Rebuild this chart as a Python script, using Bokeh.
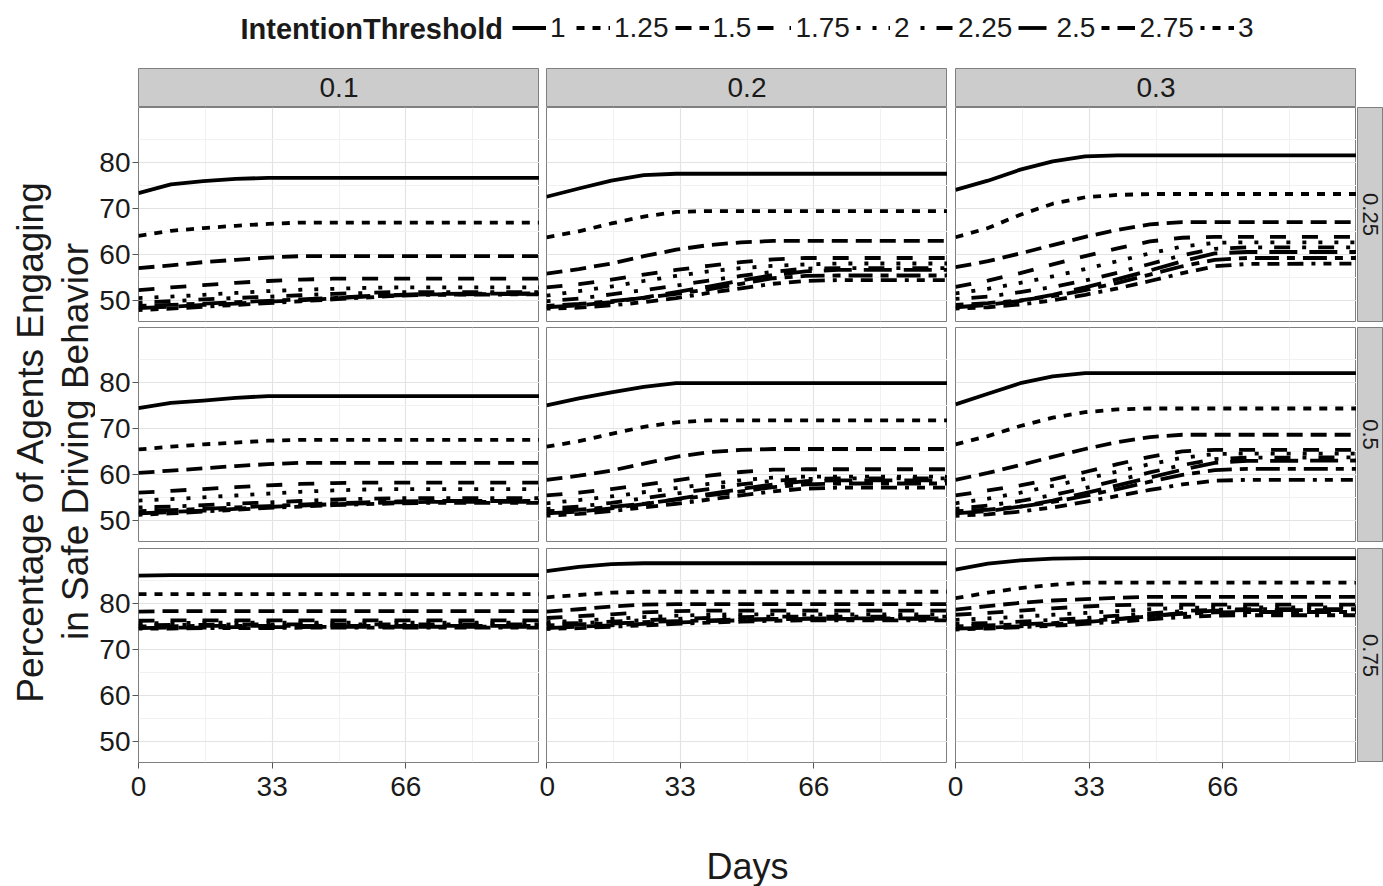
import math
from bokeh.plotting import figure
from bokeh.layouts import column, row
from bokeh.models import Range1d, FixedTicker, Label, Legend, LegendItem
from bokeh.embed import file_html
from bokeh.resources import INLINE

# ---------------- data ----------------
DAYS = [0, 8, 16, 24, 32, 40, 48, 56, 64, 72, 99]
THRESHOLDS = ["1", "1.25", "1.5", "1.75", "2", "2.25", "2.5", "2.75", "3"]
COL_LABELS = ["0.1", "0.2", "0.3"]
ROW_LABELS = ["0.25", "0.5", "0.75"]
X_TICKS = [0, 33, 66, 99]
Y_TICKS = [50, 60, 70, 80]
Y_TITLE = ["Percentage of Agents Engaging", "in Safe Driving Behavior"]
X_TITLE = "Days"
LEGEND_TITLE = "IntentionThreshold"

# row 0.25
v025_01 = [
    [73.3, 75.2, 75.9, 76.4, 76.6, 76.6, 76.6, 76.6, 76.6, 76.6, 76.6],
    [64.0, 65.1, 65.7, 66.2, 66.6, 66.9, 66.9, 66.9, 66.9, 66.9, 66.9],
    [57.0, 57.6, 58.3, 58.8, 59.3, 59.6, 59.6, 59.6, 59.6, 59.6, 59.6],
    [52.2, 52.8, 53.3, 53.8, 54.2, 54.5, 54.7, 54.7, 54.7, 54.7, 54.7],
    [50.5, 50.8, 51.2, 51.6, 52.0, 52.3, 52.5, 52.7, 52.8, 52.8, 52.8],
    [49.5, 49.8, 50.2, 50.5, 50.8, 51.1, 51.4, 51.6, 51.8, 51.8, 51.8],
    [48.3, 48.6, 49.0, 49.3, 49.7, 50.0, 50.4, 50.8, 51.1, 51.3, 51.4],
    [48.8, 49.0, 49.3, 49.6, 49.9, 50.2, 50.5, 50.9, 51.2, 51.4, 51.5],
    [47.9, 48.2, 48.6, 49.0, 49.4, 49.8, 50.2, 50.6, 51.0, 51.2, 51.3],
]
v025_02 = [
    [72.5, 74.3, 76.0, 77.2, 77.5, 77.5, 77.5, 77.5, 77.5, 77.5, 77.5],
    [63.7, 65.0, 66.7, 68.2, 69.2, 69.4, 69.4, 69.4, 69.4, 69.4, 69.4],
    [55.8, 56.8, 58.0, 59.6, 61.0, 62.0, 62.6, 62.9, 62.9, 62.9, 62.9],
    [52.8, 53.5, 54.5, 55.6, 56.6, 57.5, 58.3, 58.9, 59.2, 59.2, 59.2],
    [51.0, 52.0, 53.0, 54.2, 55.3, 56.3, 57.0, 57.5, 57.8, 58.0, 58.0],
    [49.8, 50.4, 51.3, 52.2, 53.2, 54.3, 55.3, 56.2, 56.9, 57.0, 57.0],
    [48.5, 48.9, 49.6, 50.6, 51.8, 53.0, 54.3, 55.5, 56.3, 56.6, 56.6],
    [48.8, 49.2, 49.8, 50.5, 51.4, 52.4, 53.6, 54.8, 55.3, 55.4, 55.4],
    [48.2, 48.4, 48.9, 49.6, 50.5, 51.6, 52.6, 53.6, 54.2, 54.4, 54.4],
]
v025_03 = [
    [74.0, 76.0, 78.4, 80.2, 81.3, 81.5, 81.5, 81.5, 81.5, 81.5, 81.5],
    [63.7, 65.7, 68.6, 71.0, 72.4, 72.9, 73.1, 73.1, 73.1, 73.1, 73.1],
    [57.2, 58.5, 60.2, 62.0, 63.8, 65.3, 66.5, 67.0, 67.0, 67.0, 67.0],
    [52.9, 54.3, 55.9, 57.8, 59.6, 61.3, 62.8, 63.6, 63.8, 63.8, 63.8],
    [51.5, 52.5, 53.8, 55.2, 56.8, 58.5, 60.2, 61.7, 62.5, 62.6, 62.6],
    [50.3, 50.8, 51.8, 52.9, 54.3, 56.0, 57.9, 59.8, 61.2, 61.5, 61.5],
    [48.5, 49.0, 49.9, 51.2, 52.8, 54.6, 56.5, 58.5, 60.2, 60.5, 60.5],
    [49.0, 49.4, 50.0, 50.9, 52.2, 53.8, 55.6, 57.4, 58.8, 59.2, 59.2],
    [48.2, 48.5, 49.1, 50.0, 51.2, 52.6, 54.2, 55.9, 57.4, 57.9, 58.0],
]
# row 0.5
v050_01 = [
    [74.4, 75.5, 76.0, 76.6, 77.0, 77.0, 77.0, 77.0, 77.0, 77.0, 77.0],
    [65.4, 66.0, 66.5, 66.9, 67.3, 67.5, 67.5, 67.5, 67.5, 67.5, 67.5],
    [60.3, 60.8, 61.3, 61.8, 62.2, 62.5, 62.5, 62.5, 62.5, 62.5, 62.5],
    [56.0, 56.4, 56.8, 57.2, 57.6, 57.9, 58.1, 58.2, 58.2, 58.2, 58.2],
    [54.3, 54.6, 55.0, 55.4, 55.8, 56.2, 56.5, 56.7, 56.8, 56.8, 56.8],
    [52.8, 53.0, 53.3, 53.6, 53.9, 54.2, 54.5, 54.7, 54.8, 54.8, 54.8],
    [51.5, 51.8, 52.1, 52.5, 52.9, 53.2, 53.5, 53.7, 53.9, 54.0, 54.0],
    [52.0, 52.2, 52.5, 52.8, 53.1, 53.4, 53.7, 53.9, 54.1, 54.2, 54.2],
    [51.2, 51.5, 51.9, 52.3, 52.7, 53.0, 53.3, 53.5, 53.7, 53.8, 53.8],
]
v050_02 = [
    [75.0, 76.5, 77.8, 79.0, 79.8, 79.8, 79.8, 79.8, 79.8, 79.8, 79.8],
    [66.0, 67.2, 68.8, 70.3, 71.3, 71.7, 71.7, 71.7, 71.7, 71.7, 71.7],
    [58.8, 59.7, 60.8, 62.3, 63.8, 64.8, 65.3, 65.5, 65.5, 65.5, 65.5],
    [55.4, 56.0, 56.8, 57.7, 58.7, 59.7, 60.5, 61.0, 61.1, 61.1, 61.1],
    [53.7, 54.4, 55.2, 56.1, 57.0, 57.9, 58.7, 59.3, 59.5, 59.5, 59.5],
    [52.5, 53.0, 53.8, 54.8, 55.8, 56.8, 57.8, 58.6, 59.0, 59.1, 59.1],
    [51.5, 51.9, 52.6, 53.5, 54.6, 55.7, 56.8, 57.8, 58.5, 58.7, 58.7],
    [52.0, 52.3, 52.9, 53.6, 54.5, 55.4, 56.3, 57.2, 57.8, 58.0, 58.0],
    [51.0, 51.4, 52.0, 52.8, 53.6, 54.5, 55.4, 56.3, 56.9, 57.1, 57.1],
]
v050_03 = [
    [75.2, 77.5, 79.8, 81.3, 82.0, 82.0, 82.0, 82.0, 82.0, 82.0, 82.0],
    [66.5, 68.3, 70.5, 72.3, 73.5, 74.1, 74.3, 74.3, 74.3, 74.3, 74.3],
    [58.8, 60.3, 62.0, 63.8, 65.5, 67.0, 68.1, 68.6, 68.6, 68.6, 68.6],
    [55.4, 56.5, 57.6, 58.9, 60.5, 62.2, 63.8, 65.0, 65.3, 65.3, 65.3],
    [53.7, 54.7, 56.0, 57.5, 59.0, 60.6, 62.2, 63.6, 64.4, 64.5, 64.5],
    [52.5, 53.2, 54.2, 55.5, 57.0, 58.7, 60.4, 62.0, 63.3, 63.6, 63.7],
    [51.5, 52.0, 53.0, 54.3, 55.9, 57.6, 59.3, 61.0, 62.5, 62.9, 63.0],
    [52.0, 52.3, 53.0, 54.0, 55.3, 56.8, 58.4, 59.9, 60.9, 61.2, 61.2],
    [51.0, 51.3, 51.9, 52.8, 54.0, 55.3, 56.6, 57.8, 58.6, 58.8, 58.8],
]
# row 0.75
v075_01 = [
    [86.0, 86.1, 86.1, 86.1, 86.1, 86.1, 86.1, 86.1, 86.1, 86.1, 86.1],
    [82.0, 82.0, 82.0, 82.0, 82.0, 82.0, 82.0, 82.0, 82.0, 82.0, 82.0],
    [78.2, 78.3, 78.3, 78.3, 78.3, 78.3, 78.3, 78.3, 78.3, 78.3, 78.3],
    [76.2, 76.3, 76.3, 76.3, 76.3, 76.3, 76.3, 76.3, 76.3, 76.3, 76.3],
    [75.7, 75.7, 75.8, 75.8, 75.8, 75.8, 75.8, 75.8, 75.8, 75.8, 75.8],
    [75.2, 75.3, 75.3, 75.4, 75.4, 75.4, 75.4, 75.4, 75.4, 75.4, 75.4],
    [74.6, 74.7, 74.7, 74.8, 74.8, 74.8, 74.9, 74.9, 74.9, 74.9, 74.9],
    [75.0, 75.0, 75.1, 75.1, 75.1, 75.1, 75.1, 75.1, 75.1, 75.1, 75.1],
    [74.5, 74.5, 74.6, 74.6, 74.6, 74.7, 74.7, 74.7, 74.7, 74.7, 74.7],
]
v075_02 = [
    [87.0, 87.9, 88.5, 88.7, 88.7, 88.7, 88.7, 88.7, 88.7, 88.7, 88.7],
    [81.3, 81.8, 82.3, 82.5, 82.5, 82.5, 82.5, 82.5, 82.5, 82.5, 82.5],
    [78.2, 78.7, 79.3, 79.7, 79.8, 79.8, 79.8, 79.8, 79.8, 79.8, 79.8],
    [76.8, 77.2, 77.6, 78.0, 78.3, 78.4, 78.4, 78.4, 78.4, 78.4, 78.4],
    [75.9, 76.2, 76.6, 77.0, 77.3, 77.5, 77.6, 77.6, 77.6, 77.6, 77.6],
    [75.5, 75.7, 76.0, 76.3, 76.6, 76.8, 77.0, 77.1, 77.1, 77.1, 77.1],
    [74.6, 74.9, 75.2, 75.5, 75.8, 76.1, 76.3, 76.5, 76.6, 76.6, 76.6],
    [75.2, 75.4, 75.6, 75.9, 76.1, 76.3, 76.5, 76.6, 76.7, 76.7, 76.7],
    [74.4, 74.6, 74.9, 75.2, 75.5, 75.8, 76.0, 76.2, 76.3, 76.3, 76.3],
]
v075_03 = [
    [87.3, 88.6, 89.3, 89.7, 89.8, 89.8, 89.8, 89.8, 89.8, 89.8, 89.8],
    [81.1, 82.3, 83.3, 84.0, 84.5, 84.5, 84.5, 84.5, 84.5, 84.5, 84.5],
    [78.6, 79.4, 80.1, 80.6, 80.9, 81.2, 81.4, 81.4, 81.4, 81.4, 81.4],
    [77.5, 77.9, 78.4, 78.9, 79.3, 79.6, 79.7, 79.7, 79.7, 79.7, 79.7],
    [76.4, 76.7, 77.1, 77.5, 77.9, 78.3, 78.7, 79.0, 79.1, 79.1, 79.1],
    [75.5, 75.7, 76.0, 76.4, 76.8, 77.3, 77.8, 78.3, 78.6, 78.7, 78.7],
    [74.5, 74.7, 75.0, 75.4, 75.9, 76.5, 77.2, 77.9, 78.4, 78.5, 78.5],
    [75.0, 75.2, 75.4, 75.7, 76.1, 76.6, 77.2, 77.7, 78.0, 78.1, 78.1],
    [74.3, 74.5, 74.8, 75.1, 75.5, 76.0, 76.5, 77.0, 77.3, 77.4, 77.4],
]

PANELS = [
    [v025_01, v025_02, v025_03],
    [v050_01, v050_02, v050_03],
    [v075_01, v075_02, v075_03],
]

# ---------------- style ----------------
FONT = "Liberation Sans"
DASHES = ["solid", "8 8", "16 8", "16 16", "4 12", "4 12 16 12", "28 12",
          "8 8 24 8", "4 8 8 8 12 8 16 8"]
LW = 3.8
FRAME_W, FRAME_H = 401, 214
YT_W = 95
LEFT_B = [43, 7, 8]
BOTTOM_B = [6, 7, 50]
STRIP_W = 26
STRIP_FILL = "#cccccc"
BORDER = "#7f7f7f"
TXT = "#1a1a1a"
LEG_H = 68
TOTAL_W = 1383
TOTAL_H = 886


def panel(data, r, c):
    p = figure(frame_width=FRAME_W, frame_height=FRAME_H,
               x_range=Range1d(0, 99), y_range=Range1d(45.4, 91.9),
               x_axis_location="below" if r == 2 else None,
               y_axis_location="left" if c == 0 else None,
               min_border_left=LEFT_B[c], min_border_right=0,
               min_border_top=0, min_border_bottom=BOTTOM_B[r],
               output_backend="svg", toolbar_location=None)
    p.outline_line_color = BORDER
    p.outline_line_width = 1
    p.xgrid.ticker = FixedTicker(ticks=X_TICKS, minor_ticks=[16.5, 49.5, 82.5])
    p.ygrid.ticker = FixedTicker(ticks=Y_TICKS, minor_ticks=[55, 65, 75, 85])
    p.grid.grid_line_color = "#e3e3e3"
    p.grid.grid_line_width = 1.2
    p.grid.minor_grid_line_color = "#f1f1f1"
    p.grid.minor_grid_line_width = 1
    for k, ys in enumerate(data):
        p.line(DAYS, ys, line_color="black", line_width=LW,
               line_dash=DASHES[k], line_cap="butt", line_join="round")
    if r == 2:
        ax = p.xaxis[0]
        ax.ticker = FixedTicker(ticks=X_TICKS)
        ax.major_label_overrides = {99: ""}
        ax.axis_line_color = None
        ax.major_tick_line_color = "#555555"
        ax.major_tick_out = 6
        ax.major_tick_in = 0
        ax.minor_tick_line_color = None
        ax.major_label_standoff = 8
        ax.major_label_text_font = FONT
        ax.major_label_text_font_size = "28px"
        ax.major_label_text_color = TXT
    if c == 0:
        ay = p.yaxis[0]
        ay.ticker = FixedTicker(ticks=Y_TICKS)
        ay.axis_line_color = None
        ay.major_tick_line_color = "#555555"
        ay.major_tick_out = 6
        ay.major_tick_in = 0
        ay.minor_tick_line_color = None
        ay.major_label_standoff = 2
        ay.major_label_text_font = FONT
        ay.major_label_text_font_size = "28px"
        ay.major_label_text_color = TXT
    return p


def top_strip(text, c):
    s = figure(frame_width=FRAME_W, frame_height=38,
               x_range=Range1d(0, 1), y_range=Range1d(0, 1),
               x_axis_location=None, y_axis_location=None,
               min_border_left=LEFT_B[c], min_border_right=0,
               min_border_top=0, min_border_bottom=1,
               output_backend="svg", toolbar_location=None)
    s.grid.visible = False
    s.background_fill_color = STRIP_FILL
    s.outline_line_color = BORDER
    s.add_layout(Label(x=0.5, y=0.5, text=text, text_align="center",
                       text_baseline="middle", text_font=FONT,
                       text_font_size="28px", text_color=TXT))
    return s


def right_strip(text, r):
    s = figure(frame_width=STRIP_W, frame_height=FRAME_H,
               x_range=Range1d(0, 1), y_range=Range1d(0, 1),
               x_axis_location=None, y_axis_location=None,
               min_border_left=1, min_border_right=0,
               min_border_top=0, min_border_bottom=BOTTOM_B[r] if r < 2 else 0,
               output_backend="svg", toolbar_location=None)
    s.grid.visible = False
    s.background_fill_color = STRIP_FILL
    s.outline_line_color = BORDER
    s.add_layout(Label(x=0.5, y=0.5, text=text, text_align="center",
                       text_baseline="middle", angle=-math.pi / 2,
                       text_font=FONT, text_font_size="22px", text_color=TXT))
    return s


# ---------------- legend strip ----------------
lg = figure(width=TOTAL_W, height=LEG_H, x_range=Range1d(0, 1), y_range=Range1d(0, 1),
            x_axis_location=None, y_axis_location=None, min_border=0,
            output_backend="svg", toolbar_location=None)
lg.grid.visible = False
lg.outline_line_color = None
items = []
for k, t in enumerate(THRESHOLDS):
    # series drawn outside the (0,1) view: only its legend key is visible
    rr = lg.line(DAYS, PANELS[0][0][k], line_color="black", line_width=LW,
                 line_dash=DASHES[k], line_cap="butt")
    items.append(LegendItem(label=t, renderers=[rr]))
leg = Legend(items=items, orientation="horizontal", location=(512, 23),
             glyph_width=34, glyph_height=35, label_standoff=4, spacing=6,
             padding=0, margin=0, label_text_font=FONT,
             label_text_font_size="28px", label_text_color=TXT,
             label_height=35, border_line_alpha=0, background_fill_alpha=0)
lg.add_layout(leg)
lg.add_layout(Label(x=240, y=40, x_units="screen", y_units="screen",
                    text=LEGEND_TITLE, text_font=FONT,
                    text_font_style="bold", text_font_size="29px",
                    text_baseline="middle", text_color=TXT))

# ---------------- panels ----------------
strips = [top_strip(COL_LABELS[c], c) for c in range(3)]
rows = []
for r in range(3):
    figs = [panel(PANELS[r][c], r, c) for c in range(3)]
    figs.append(right_strip(ROW_LABELS[r], r))
    rows.append(row(*figs, spacing=0))

grid_h = 39 + (FRAME_H + BOTTOM_B[0]) + (FRAME_H + BOTTOM_B[1]) + FRAME_H + BOTTOM_B[2]
grid_w = TOTAL_W - YT_W

# ---------------- x title strip ----------------
days_h = TOTAL_H - LEG_H - grid_h
xt = figure(width=grid_w, height=days_h, x_range=Range1d(0, 1), y_range=Range1d(0, 1),
            x_axis_location=None, y_axis_location=None, min_border=0,
            output_backend="svg", toolbar_location=None)
xt.grid.visible = False
xt.outline_line_color = None
xt.add_layout(Label(x=747 - YT_W, y=20, x_units="screen", y_units="screen",
                    text=X_TITLE, text_align="center", text_baseline="middle",
                    text_font=FONT, text_font_size="36px", text_color=TXT))

# ---------------- y title strip ----------------
yt_h = TOTAL_H - LEG_H
yt = figure(width=YT_W, height=yt_h, x_range=Range1d(0, 1), y_range=Range1d(0, 1),
            x_axis_location=None, y_axis_location=None, min_border=0,
            output_backend="svg", toolbar_location=None)
yt.grid.visible = False
yt.outline_line_color = None
for xi, line_txt in zip([30, 75], Y_TITLE):
    yt.add_layout(Label(x=xi, y=yt_h - (441 - LEG_H), x_units="screen", y_units="screen",
                        text=line_txt, angle=math.pi / 2, text_align="center",
                        text_baseline="middle", text_font=FONT,
                        text_font_size="37px", text_color=TXT))

grid = column(row(*strips, spacing=0), *rows, xt, spacing=0)
layout = column(lg, row(yt, grid, spacing=0), spacing=0)

open("out.html", "w").write(file_html(layout, INLINE))
